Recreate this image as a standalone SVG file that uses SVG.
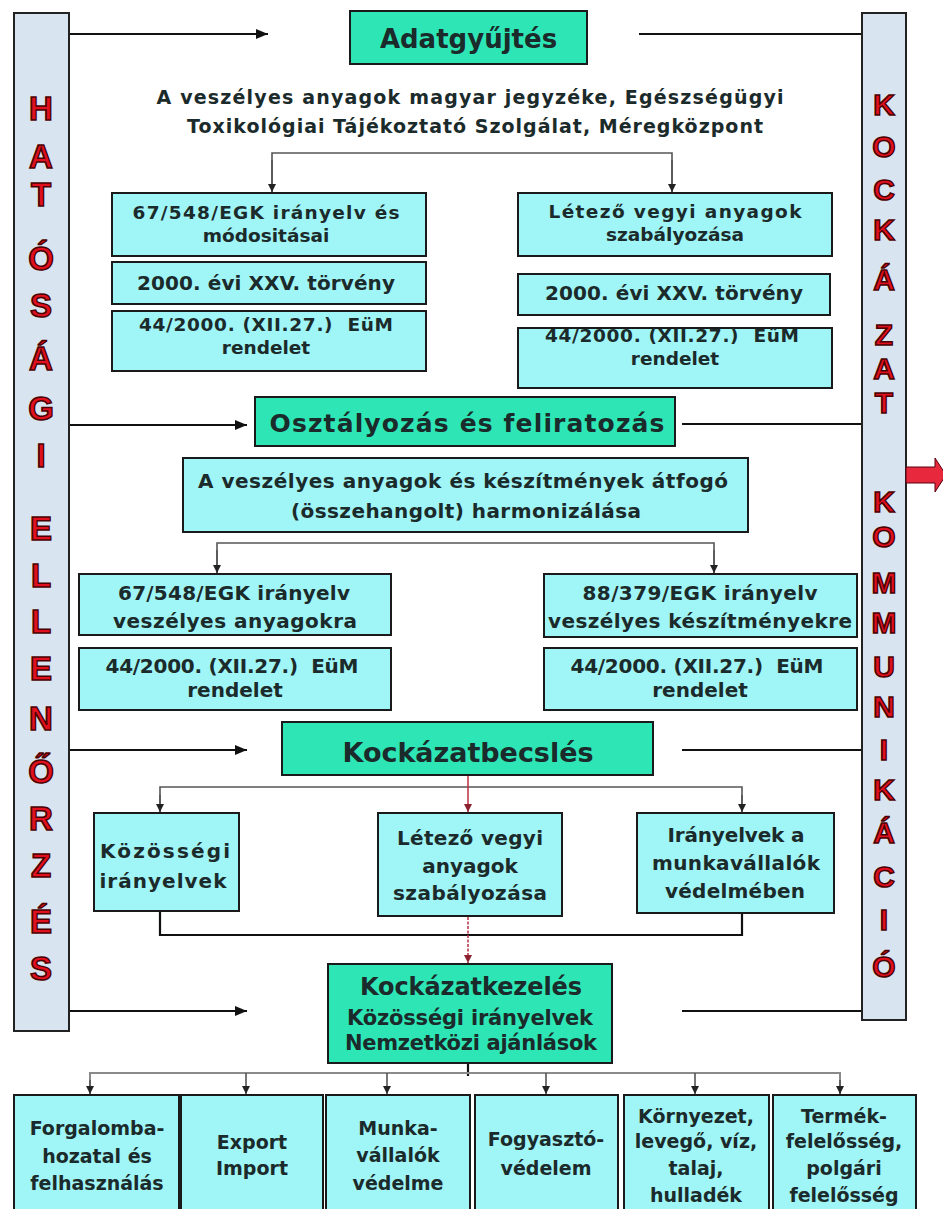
<svg xmlns="http://www.w3.org/2000/svg" width="943" height="1209" viewBox="0 0 943 1209">
<style>
.t{font-family:"DejaVu Sans",Verdana,sans-serif;font-weight:bold;fill:#1b2a2a;text-anchor:middle;font-size:20px}
.s{font-size:18.5px}
.box{fill:#a0f5f7;stroke:#1a1a1a;stroke-width:2}
.hdr{fill:#2ee6b5;stroke:#1a1a1a;stroke-width:2}
.bar{fill:#d9e4f1;stroke:#222;stroke-width:2}
.let{font-family:"Liberation Sans",Arial,sans-serif;font-weight:bold;font-size:33px;fill:#e0101e;stroke:#4a0000;stroke-width:1.5;text-anchor:middle}
.letr{font-size:30px}
.ln{stroke:#111;stroke-width:2.2;fill:none}
.gl{stroke:#555;stroke-width:1.6;fill:none}
.gr{stroke:#8a8a8a;stroke-width:2;fill:none}
.rd{stroke:#b83040;stroke-width:1.5;fill:none}
</style>
<defs>
<marker id="big" markerUnits="userSpaceOnUse" markerWidth="12" markerHeight="10" refX="12" refY="5" orient="auto"><path d="M0,0 L12,5 L0,10 z" fill="#111"/></marker>
<marker id="sm" markerUnits="userSpaceOnUse" markerWidth="8" markerHeight="8" refX="8" refY="4" orient="auto"><path d="M0,0 L8,4 L0,8 z" fill="#222"/></marker>
<marker id="smr" markerUnits="userSpaceOnUse" markerWidth="8" markerHeight="8" refX="8" refY="4" orient="auto"><path d="M0,0 L8,4 L0,8 z" fill="#8a2030"/></marker>
</defs>
<rect width="943" height="1209" fill="#ffffff"/>

<g id="connectors">
<path class="ln" d="M69,34 H268" marker-end="url(#big)"/>
<path class="ln" d="M69,425 H247" marker-end="url(#big)"/>
<path class="ln" d="M69,750 H247" marker-end="url(#big)"/>
<path class="ln" d="M69,1011 H247" marker-end="url(#big)"/>
<path class="ln" d="M639,34 H862"/>
<path class="ln" d="M682,424 H862"/>
<path class="ln" d="M682,750 H862"/>
<path class="ln" d="M682,1011 H862"/>
<path class="gl" d="M272,193 V153 H672 V193"/>
<path class="gl" d="M272,160 V192" marker-end="url(#sm)"/>
<path class="gl" d="M672,160 V192" marker-end="url(#sm)"/>
<path class="gl" d="M217,573 V543 H714 V573"/>
<path class="gl" d="M217,550 V573" marker-end="url(#sm)"/>
<path class="gl" d="M714,550 V573" marker-end="url(#sm)"/>
<path class="gl" d="M160,813 V787 H742 V813"/>
<path class="gl" d="M160,795 V812" marker-end="url(#sm)"/>
<path class="gl" d="M742,795 V812" marker-end="url(#sm)"/>
<path class="rd" d="M468,776 V812" marker-end="url(#smr)"/>
<path class="ln" d="M160,911 V935 H742 V913"/>
<path class="rd" d="M468,917 V963" stroke-dasharray="3,1.5" marker-end="url(#smr)"/>
<path class="ln" d="M468,1063 V1076"/>
<path class="gr" d="M90,1095 V1073 H840 V1095"/>
<path class="gl" d="M90,1080 V1094" marker-end="url(#sm)"/>
<path class="gl" d="M246,1073 V1094" marker-end="url(#sm)"/>
<path class="gl" d="M387,1073 V1094" marker-end="url(#sm)"/>
<path class="gl" d="M546,1073 V1094" marker-end="url(#sm)"/>
<path class="gl" d="M695,1073 V1094" marker-end="url(#sm)"/>
<path class="gl" d="M840,1080 V1094" marker-end="url(#sm)"/>
</g>

<g id="hatosagi-ellenorzes">
<rect class="bar" x="14" y="13" width="55" height="1018"/>
<text class="let" x="41" y="120">H</text>
<text class="let" x="41" y="168">A</text>
<text class="let" x="41" y="206">T</text>
<text class="let" x="41" y="270">Ó</text>
<text class="let" x="41" y="317">S</text>
<text class="let" x="41" y="370">Á</text>
<text class="let" x="41" y="420">G</text>
<text class="let" x="41" y="467">I</text>
<text class="let" x="41" y="540">E</text>
<text class="let" x="41" y="587">L</text>
<text class="let" x="41" y="633">L</text>
<text class="let" x="41" y="680">E</text>
<text class="let" x="41" y="730">N</text>
<text class="let" x="41" y="783">Ő</text>
<text class="let" x="41" y="830">R</text>
<text class="let" x="41" y="877">Z</text>
<text class="let" x="41" y="933">É</text>
<text class="let" x="41" y="980">S</text>
</g>

<g id="kockazat-kommunikacio">
<rect class="bar" x="862" y="13" width="44" height="1007"/>
<text class="let letr" x="884" y="115">K</text>
<text class="let letr" x="884" y="157">O</text>
<text class="let letr" x="884" y="200">C</text>
<text class="let letr" x="884" y="240">K</text>
<text class="let letr" x="884" y="290">Á</text>
<text class="let letr" x="884" y="345">Z</text>
<text class="let letr" x="884" y="379">A</text>
<text class="let letr" x="884" y="413">T</text>
<text class="let letr" x="884" y="512">K</text>
<text class="let letr" x="884" y="547">O</text>
<text class="let letr" x="884" y="593">M</text>
<text class="let letr" x="884" y="633">M</text>
<text class="let letr" x="884" y="677">U</text>
<text class="let letr" x="884" y="717">N</text>
<text class="let letr" x="884" y="760">I</text>
<text class="let letr" x="884" y="800">K</text>
<text class="let letr" x="884" y="843">Á</text>
<text class="let letr" x="884" y="887">C</text>
<text class="let letr" x="884" y="930">I</text>
<text class="let letr" x="884" y="977">Ó</text>
</g>

<g id="red-arrow">
<polygon points="906,467 935,467 935,458 946,475 935,492 935,483 906,483" fill="#e8283c" stroke="#5a0010" stroke-width="1"/>
</g>

<g id="adatgyujtes">
<rect class="hdr" x="350" y="11" width="237" height="53"/>
<text class="t" x="468.5" y="48" style="font-size:26px">Adatgyűjtés</text>
</g>

<g id="forrasok">
<text class="t" x="470" y="104" style="font-size:19px" textLength="627">A veszélyes anyagok magyar jegyzéke, Egészségügyi</text>
<text class="t" x="475" y="133" style="font-size:19px" textLength="576">Toxikológiai Tájékoztató Szolgálat, Méregközpont</text>
</g>

<g id="eu-irányelv-1">
<rect class="box" x="112" y="193" width="314" height="63"/>
<text class="t s" x="266" y="219" textLength="267">67/548/EGK irányelv és</text>
<text class="t s" x="266" y="242">módositásai</text>
</g>
<g id="torveny-1">
<rect class="box" x="112" y="262" width="314" height="42"/>
<text class="t" x="266" y="290" textLength="258">2000. évi XXV. törvény</text>
</g>
<g id="rendelet-1">
<rect class="box" x="112" y="311" width="314" height="60"/>
<text class="t s" x="266" y="331" textLength="254" xml:space="preserve">44/2000. (XII.27.)  EüM</text>
<text class="t s" x="266" y="354">rendelet</text>
</g>

<g id="letezo-1">
<rect class="box" x="518" y="193" width="314" height="63"/>
<text class="t s" x="675" y="218" textLength="253">Létező vegyi anyagok</text>
<text class="t s" x="675" y="241">szabályozása</text>
</g>
<g id="torveny-2">
<rect class="box" x="518" y="274" width="312" height="41"/>
<text class="t" x="674" y="300" textLength="258">2000. évi XXV. törvény</text>
</g>
<g id="rendelet-2">
<rect class="box" x="518" y="328" width="314" height="60"/>
<text class="t s" x="672" y="342" textLength="254" xml:space="preserve">44/2000. (XII.27.)  EüM</text>
<text class="t s" x="675" y="365">rendelet</text>
</g>

<g id="osztalyozas">
<rect class="hdr" x="255" y="397" width="420" height="49"/>
<text class="t" x="467" y="432" style="font-size:25px" textLength="395">Osztályozás és feliratozás</text>
</g>

<g id="harmonizalas">
<rect class="box" x="183" y="458" width="565" height="74"/>
<text class="t" x="463" y="488" textLength="530">A veszélyes anyagok és készítmények átfogó</text>
<text class="t" x="466" y="518" textLength="350">(összehangolt) harmonizálása</text>
</g>

<g id="eu-irányelv-2">
<rect class="box" x="79" y="574" width="312" height="61"/>
<text class="t" x="234" y="600" textLength="232">67/548/EGK irányelv</text>
<text class="t" x="235" y="628" textLength="244">veszélyes anyagokra</text>
</g>
<g id="rendelet-3">
<rect class="box" x="79" y="648" width="312" height="62"/>
<text class="t" x="232" y="673" textLength="253" xml:space="preserve">44/2000. (XII.27.)  EüM</text>
<text class="t" x="235" y="697">rendelet</text>
</g>
<g id="eu-irányelv-3">
<rect class="box" x="544" y="574" width="313" height="63"/>
<text class="t" x="700" y="600" textLength="235">88/379/EGK irányelv</text>
<text class="t" x="700" y="628" textLength="304">veszélyes készítményekre</text>
</g>
<g id="rendelet-4">
<rect class="box" x="544" y="648" width="313" height="62"/>
<text class="t" x="697" y="673" textLength="253" xml:space="preserve">44/2000. (XII.27.)  EüM</text>
<text class="t" x="700" y="697">rendelet</text>
</g>

<g id="kockazatbecsles">
<rect class="hdr" x="282" y="722" width="371" height="53"/>
<text class="t" x="468" y="762" style="font-size:27px" textLength="251">Kockázatbecslés</text>
</g>

<g id="kozossegi-iranyelvek">
<rect class="box" x="94" y="813" width="145" height="98"/>
<text class="t" x="165" y="858" textLength="130">Közösségi</text>
<text class="t" x="163" y="888" textLength="127">irányelvek</text>
</g>
<g id="letezo-2">
<rect class="box" x="378" y="813" width="184" height="103"/>
<text class="t" x="470" y="845" textLength="146">Létező vegyi</text>
<text class="t" x="470" y="873">anyagok</text>
<text class="t" x="470" y="900" textLength="154">szabályozása</text>
</g>
<g id="munkavallalok-iranyelvek">
<rect class="box" x="637" y="813" width="197" height="100"/>
<text class="t" x="736" y="842" textLength="137">Irányelvek a</text>
<text class="t" x="736" y="870" textLength="168">munkavállalók</text>
<text class="t" x="735" y="898" textLength="140">védelmében</text>
</g>

<g id="kockazatkezeles">
<rect class="hdr" x="328" y="964" width="284" height="99"/>
<text class="t" x="471" y="995" style="font-size:24px" textLength="222">Kockázatkezelés</text>
<text class="t" x="470" y="1025" style="font-size:21px" textLength="246">Közösségi irányelvek</text>
<text class="t" x="471" y="1050" style="font-size:21px" textLength="252">Nemzetközi ajánlások</text>
</g>

<g id="forgalomba">
<rect class="box" x="14" y="1095" width="165" height="130"/>
<text class="t" x="97" y="1135" style="font-size:19px">Forgalomba-</text>
<text class="t" x="97" y="1163" style="font-size:19px">hozatal és</text>
<text class="t" x="97" y="1190" style="font-size:19px">felhasználás</text>
</g>
<g id="export-import">
<rect class="box" x="181" y="1095" width="142" height="130"/>
<text class="t" x="252" y="1149" style="font-size:19px">Export</text>
<text class="t" x="252" y="1175" style="font-size:19px">Import</text>
</g>
<g id="munkavallalok-vedelme">
<rect class="box" x="326" y="1095" width="144" height="130"/>
<text class="t" x="398" y="1135" style="font-size:19px">Munka-</text>
<text class="t" x="398" y="1162" style="font-size:19px">vállalók</text>
<text class="t" x="398" y="1190" style="font-size:19px">védelme</text>
</g>
<g id="fogyasztovedelem">
<rect class="box" x="475" y="1095" width="143" height="130"/>
<text class="t" x="546" y="1146" style="font-size:19px">Fogyasztó-</text>
<text class="t" x="546" y="1175" style="font-size:19px">védelem</text>
</g>
<g id="kornyezet">
<rect class="box" x="624" y="1095" width="145" height="130"/>
<text class="t" x="696" y="1123" style="font-size:19px">Környezet,</text>
<text class="t" x="696" y="1148" style="font-size:19px">levegő, víz,</text>
<text class="t" x="696" y="1175" style="font-size:19px">talaj,</text>
<text class="t" x="696" y="1202" style="font-size:19px">hulladék</text>
</g>
<g id="termekfelelosseg">
<rect class="box" x="773" y="1095" width="143" height="130"/>
<text class="t" x="844" y="1123" style="font-size:19px">Termék-</text>
<text class="t" x="844" y="1148" style="font-size:19px">felelősség,</text>
<text class="t" x="844" y="1175" style="font-size:19px">polgári</text>
<text class="t" x="844" y="1202" style="font-size:19px">felelősség</text>
</g>
</svg>
